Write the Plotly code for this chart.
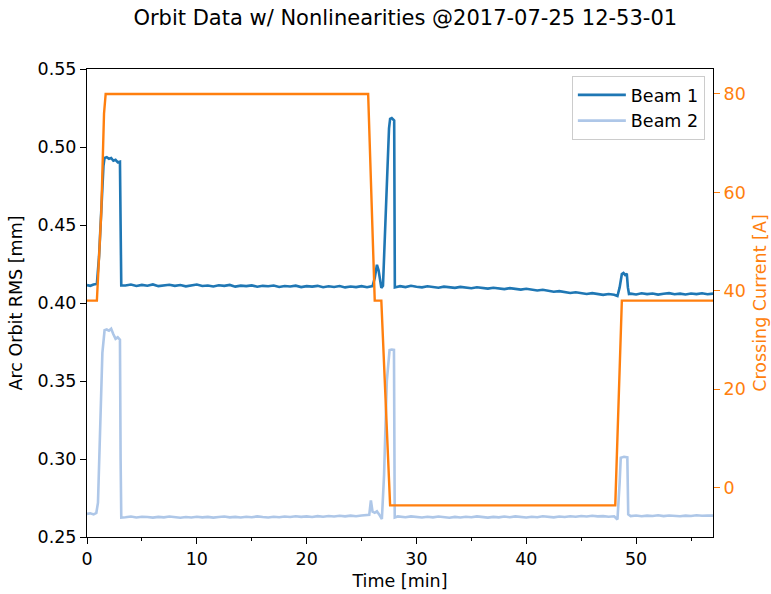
import plotly.graph_objects as go

# ---------------- data ----------------
t_start = [0.0, 0.3, 0.6, 0.9, 1.1, 1.3, 1.5, 1.6, 1.8, 2.0, 2.2, 2.4, 2.6, 2.8, 3.0, 3.06, 3.12]
b1_start = [0.4115, 0.4110, 0.4118, 0.4122, 0.430, 0.462, 0.488, 0.493, 0.4935, 0.4925, 0.4930,
            0.4912, 0.4918, 0.4902, 0.4906, 0.450, 0.4112]
t_start2 = [0.0, 0.3, 0.6, 0.85, 1.0, 1.2, 1.4, 1.6, 1.8, 2.0, 2.2, 2.4, 2.6, 2.8, 3.0, 3.06, 3.12]
b2_start = [0.2648, 0.2652, 0.2645, 0.2655, 0.272, 0.320, 0.368, 0.3825, 0.3830, 0.3822, 0.3835,
            0.3800, 0.3770, 0.3780, 0.3765, 0.300, 0.2625]

t_mid1 = [3.5, 4.0, 4.5, 5.0, 5.5, 6.0, 6.5, 7.0, 7.5, 8.0, 8.5, 9.0, 9.5, 10.0, 10.5,
          11.0, 11.5, 12.0, 12.5, 13.0, 13.5, 14.0, 14.5, 15.0, 15.5, 16.0, 16.5, 17.0, 17.5,
          18.0, 18.5, 19.0, 19.5, 20.0, 20.5, 21.0, 21.5, 22.0, 22.5, 23.0, 23.5, 24.0, 24.5,
          25.0, 25.5]
b1_mid1 = [0.4112, 0.4118, 0.4109, 0.4116, 0.4111, 0.4119, 0.4108, 0.4114, 0.4117, 0.4110,
           0.4115, 0.4107, 0.4113, 0.4118, 0.4109, 0.4112, 0.4106, 0.4114, 0.4110, 0.4116,
           0.4105, 0.4111, 0.4108, 0.4113, 0.4104, 0.4110, 0.4107, 0.4112, 0.4103, 0.4109,
           0.4106, 0.4111, 0.4102, 0.4108, 0.4105, 0.4110, 0.4101, 0.4107, 0.4103, 0.4109,
           0.4100, 0.4106, 0.4102, 0.4108, 0.4101]
b2_mid1 = [0.2627, 0.2631, 0.2625, 0.2630, 0.2628, 0.2624, 0.2629, 0.2626, 0.2631, 0.2627,
           0.2623, 0.2628, 0.2625, 0.2630, 0.2626, 0.2629, 0.2624, 0.2628, 0.2631, 0.2626,
           0.2629, 0.2625, 0.2630, 0.2627, 0.2632, 0.2628, 0.2625, 0.2630, 0.2627, 0.2631,
           0.2628, 0.2633, 0.2629, 0.2632, 0.2628, 0.2634, 0.2630, 0.2635, 0.2631, 0.2636,
           0.2632, 0.2637, 0.2633, 0.2638, 0.2640]

t_spike1 = [25.8, 26.0, 26.2, 26.4, 26.55, 26.8, 26.95, 27.1, 27.3, 27.5, 27.6, 27.75, 27.9, 27.97, 28.03, 28.3]
b1_spike1 = [0.4105, 0.4108, 0.4160, 0.4245, 0.4210, 0.4097, 0.4110, 0.440, 0.480, 0.512, 0.518,
             0.5185, 0.5175, 0.5170, 0.4100, 0.4102]
t_spike2 = [25.7, 25.85, 26.0, 26.2, 26.4, 26.6, 26.85, 27.05, 27.3, 27.55, 27.75, 27.95, 28.02, 28.3]
b2_spike2 = [0.2642, 0.2735, 0.2662, 0.2655, 0.2665, 0.2645, 0.2615, 0.290, 0.350, 0.3698,
             0.3702, 0.3700, 0.2625, 0.2632]

t_mid2 = [28.5, 29.0, 29.5, 30.0, 30.5, 31.0, 31.5, 32.0, 32.5, 33.0, 33.5, 34.0, 34.5, 35.0,
          35.5, 36.0, 36.5, 37.0, 37.5, 38.0, 38.5, 39.0, 39.5, 40.0, 40.5, 41.0, 41.5, 42.0,
          42.5, 43.0, 43.5, 44.0, 44.5, 45.0, 45.5, 46.0, 46.5, 47.0, 47.5, 48.0]
b1_mid2 = [0.4108, 0.4102, 0.4110, 0.4104, 0.4100, 0.4107, 0.4103, 0.4098, 0.4105, 0.4101,
           0.4097, 0.4103, 0.4099, 0.4095, 0.4101, 0.4096, 0.4092, 0.4098, 0.4093, 0.4089,
           0.4095, 0.4090, 0.4086, 0.4091, 0.4085, 0.4080, 0.4085, 0.4077, 0.4072, 0.4076,
           0.4068, 0.4064, 0.4069, 0.4062, 0.4058, 0.4063, 0.4056, 0.4052, 0.4058, 0.4053]
b2_mid2 = [0.2631, 0.2627, 0.2632, 0.2628, 0.2625, 0.2630, 0.2626, 0.2631, 0.2628, 0.2623,
           0.2629, 0.2625, 0.2630, 0.2627, 0.2632, 0.2628, 0.2624, 0.2629, 0.2626, 0.2631,
           0.2627, 0.2632, 0.2629, 0.2625, 0.2630, 0.2627, 0.2633, 0.2629, 0.2626, 0.2631,
           0.2628, 0.2633, 0.2630, 0.2635, 0.2631, 0.2636, 0.2632, 0.2634, 0.2630, 0.2633]

t_spike3 = [48.3, 48.5, 48.7, 48.85, 49.0, 49.15, 49.25, 49.35]
b1_spike3 = [0.4045, 0.4100, 0.4185, 0.4192, 0.4180, 0.4188, 0.4100, 0.4058]
t_spike4 = [48.3, 48.5, 48.6, 48.9, 49.2, 49.28, 49.4]
b2_spike4 = [0.2612, 0.2850, 0.3008, 0.3014, 0.3010, 0.2645, 0.2636]

t_end = [49.5, 50.0, 50.5, 51.0, 51.5, 52.0, 52.5, 53.0, 53.5, 54.0, 54.5, 55.0, 55.5, 56.0, 56.5, 57.0]
b1_end = [0.4060, 0.4055, 0.4062, 0.4057, 0.4061, 0.4054, 0.4059, 0.4063, 0.4056, 0.4060,
          0.4055, 0.4061, 0.4057, 0.4062, 0.4056, 0.4060]
b2_end = [0.2634, 0.2638, 0.2633, 0.2637, 0.2635, 0.2639, 0.2634, 0.2638, 0.2636, 0.2633,
          0.2637, 0.2635, 0.2639, 0.2636, 0.2638, 0.2637]

t_current = [0.0, 0.9, 1.3, 1.55, 1.7, 25.6, 26.2, 26.8, 27.6, 48.1, 48.7, 57.0]
current = [38.0, 38.0, 56.0, 76.0, 80.0, 80.0, 38.0, 38.0, -3.6, -3.6, 38.0, 38.0]

t_beam1 = t_start + t_mid1 + t_spike1 + t_mid2 + t_spike3 + t_end
beam1 = b1_start + b1_mid1 + b1_spike1 + b1_mid2 + b1_spike3 + b1_end
t_beam2 = t_start2 + t_mid1 + t_spike2 + t_mid2 + t_spike4 + t_end
beam2 = b2_start + b2_mid1 + b2_spike2 + b2_mid2 + b2_spike4 + b2_end

# ---------------- figure ----------------
FONT = "DejaVu Sans"
BLUE = "#1f77b4"
LIGHT = "#aec7e8"
ORANGE = "#ff7f0e"
FS = 17.5

fig = go.Figure()
fig.add_trace(go.Scatter(x=t_beam1, y=beam1, mode="lines", name="Beam 1",
                         line=dict(color=BLUE, width=2.6), legendgroup="a"))
fig.add_trace(go.Scatter(x=t_beam2, y=beam2, mode="lines", name="Beam 2",
                         line=dict(color=LIGHT, width=2.6), legendgroup="b"))
fig.add_trace(go.Scatter(x=t_current, y=current, mode="lines", name="Crossing Current",
                         line=dict(color=ORANGE, width=2.4), yaxis="y2", showlegend=False))

fig.update_layout(
    width=771, height=594,
    margin=dict(l=87, r=58, t=69, b=57, autoexpand=False),
    paper_bgcolor="white", plot_bgcolor="white",
    font=dict(family=FONT, size=FS, color="black"),
    title=dict(text="Orbit Data w/ Nonlinearities @2017-07-25 12-53-01",
               font=dict(family=FONT, size=21, color="black"),
               x=392 / 771, xanchor="center", xref="paper",
               y=1 - 18 / 594, yanchor="middle", yref="container"),
    xaxis=dict(range=[0, 57], showgrid=False, zeroline=False, automargin=False,
               showline=True, linecolor="black", linewidth=1, mirror=True,
               ticks="outside", ticklen=6, tickwidth=1, tickcolor="black",
               tick0=0, dtick=10,
               minor=dict(dtick=5, ticks="outside", ticklen=3, tickcolor="black", showgrid=False),
               title=dict(text="Time [min]", standoff=6, font=dict(size=FS))),
    yaxis=dict(range=[0.25, 0.55], showgrid=False, zeroline=False, automargin=False,
               showline=True, linecolor="black", linewidth=1,
               ticks="outside", ticklen=6, tickwidth=1, tickcolor="black",
               tick0=0.25, dtick=0.05, tickformat=".2f",
               title=dict(text="Arc Orbit RMS [mm]", standoff=10, font=dict(size=FS))),
    yaxis2=dict(range=[-10.02, 85.07], overlaying="y", side="right",
                showgrid=False, zeroline=False, automargin=False,
                showline=True, linecolor="black", linewidth=1,
                ticks="outside", ticklen=6, tickwidth=1, tickcolor=ORANGE,
                tick0=0, dtick=20, tickfont=dict(color=ORANGE),
                title=dict(text="Crossing Current [A]", standoff=8,
                           font=dict(size=FS, color=ORANGE))),
    legend=dict(x=0.987, y=0.985, xanchor="right", yanchor="top",
                bgcolor="rgba(255,255,255,0.8)", bordercolor="#cccccc", borderwidth=1,
                font=dict(family=FONT, size=FS), tracegroupgap=0, itemwidth=48),
    showlegend=True,
)

fig.write_html("out.html")
